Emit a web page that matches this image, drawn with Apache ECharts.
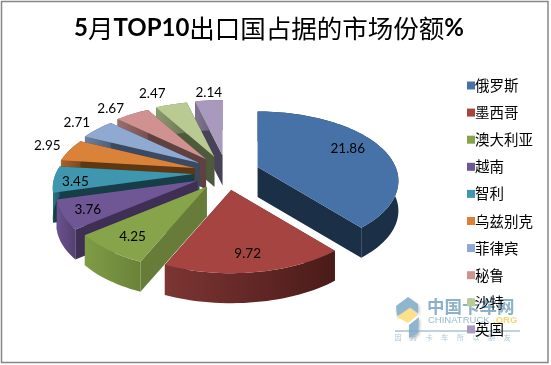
<!DOCTYPE html>
<html><head><meta charset="utf-8">
<style>html,body{margin:0;padding:0;background:#fff}#c{width:551px;height:365px}</style>
<script src="https://cdn.jsdelivr.net/npm/echarts@6/dist/echarts.min.js"></script>
</head><body><div id="c"></div>
<script>
const categories=['俄罗斯','墨西哥','澳大利亚','越南','智利','乌兹别克','菲律宾','秘鲁','沙特','英国'];
const shares=[21.86,9.72,4.25,3.76,3.45,2.95,2.71,2.67,2.47,2.14];
const topColors=['#4672a8','#a54441','#87a44a','#6f5694','#3e97ae','#db823a','#8fa9d0','#d09291','#b9ca93','#a99abd'];
const sideColors=['#1b2f47','#4f1f1d','#667c38','#3f2f54','#163d48','#5f3812','#3a4a62','#5e4140','#4e5a3c','#474257'];
const rimLeft=['#1b2f47','#7c3533','#809c46','#6a5290','#2f7488','#a8622a','#6b80a0','#9c6e6d','#8c9a6e','#80748f'];
const rimRight=['#1b2f47','#4a1b19','#6a8239','#54406f','#225a69','#7a4820','#4f5f78','#765150','#6a7553','#5f566b'];
const labelNudge=[[1,-3],[0,8],[-7,7],[-15,5],[-18,4],[-2,-2],[-5,-1],[-11,1],[-13,-4],[2,0]];

const total=shares.reduce((a,b)=>a+b,0);
const deg=Math.PI/180;
const G={cx:226.5,cy:172.8,ex:33,ey:17.3,A:138,B:66.6,k:0.2,D:30};
let acc=0;
const spans=shares.map(v=>{const s=acc;acc+=v/total*360;return [s,acc];});

function pt(ax,ay,r,t){
  const u=r*Math.sin(t*deg),v=-r*Math.cos(t*deg),p=1/(1-G.k*v);
  return [ax+G.A*u*p,ay+G.B*v*p];
}
function down(q){return [q[0],q[1]+G.D];}
function renderSlice(i,params,api){
  const [a,b]=spans[i],m=(a+b)/2;
  const ax=G.cx+G.ex*Math.sin(m*deg),ay=G.cy-G.ey*Math.cos(m*deg);
  const arc=[];
  const n=Math.max(6,Math.ceil((b-a)/2));
  for(let j=0;j<=n;j++)arc.push(pt(ax,ay,1,a+(b-a)*j/n));
  const apex=[ax,ay];
  const poly=(pts,fill)=>({type:'polygon',shape:{points:pts},style:{fill:fill},silent:true});
  const first=arc[0],last=arc[arc.length-1];
  const grad=new echarts.graphic.LinearGradient(0,0,1,0,[{offset:0,color:rimLeft[i]},{offset:1,color:rimRight[i]}]);
  const inside=shares[i]>=3.4;
  const lp=pt(ax,ay,inside?0.72:1.17,m);
  return {type:'group',children:[
    poly([apex,first,down(first),down(apex)],sideColors[i]),
    poly([apex,last,down(last),down(apex)],sideColors[i]),
    poly(arc.concat(arc.slice().reverse().map(down)),grad),
    poly([apex].concat(arc),topColors[i]),
    {type:'text',silent:true,style:{x:lp[0]+labelNudge[i][0],y:lp[1]+labelNudge[i][1],text:String(api.value(0)),fill:'#000',
      font:'13.5px Lato',align:'center',verticalAlign:'middle'}}
  ]};
}
const series=categories.map((name,i)=>{
  const m=(spans[i][0]+spans[i][1])/2;
  return {type:'custom',name:name,coordinateSystem:'none',z:Math.round(100-50*Math.cos(m*deg)),
    data:[[shares[i]]],itemStyle:{color:topColors[i]},animation:false,silent:true,
    renderItem:(p,api)=>renderSlice(i,p,api)};
});
const T={fontSize:25.5,fontFamily:'"Noto Sans CJK SC"',fontWeight:400,color:'#000'};
const L={fontSize:24,fontFamily:'Lato',fontWeight:700,color:'#000'};
const wm='#8db2c8';
const shadow={shadowColor:'rgba(90,90,90,.45)',shadowBlur:3,shadowOffsetX:1,shadowOffsetY:2};
const tagline=['因','为','卡','车','所','以','朋','友'].map((c,i)=>({type:'text',
  style:Object.assign({x:398+i*15.6,y:337,text:c,fill:wm,opacity:.75,font:'7px "Noto Sans CJK SC"',align:'center',verticalAlign:'middle'},shadow)}));
const chart=echarts.init(document.getElementById('c'),null,{renderer:'canvas'});
chart.setOption({
  animation:false,
  title:{left:74,top:16,padding:0,text:'{l|5}{c|月}{l|TOP10}{c|出口国占据的市场份额}{l|%}',
    textStyle:{rich:{l:L,c:T}}},
  legend:{orient:'vertical',left:462,top:71,itemWidth:8,itemHeight:8,itemGap:8.1,
    icon:'rect',selectedMode:false,data:categories,
    textStyle:{fontSize:14.5,fontFamily:'"Noto Sans CJK SC"',color:'#000',padding:[0,0,0,-5],lineHeight:19,height:19}},
  graphic:[
    {type:'rect',z:-2,shape:{x:1.5,y:1.5,width:546.5,height:361},style:{fill:'#fff',stroke:'#868686',lineWidth:1.5}},
    {type:'group',z:-1,silent:true,children:[
      {type:'polygon',shape:{points:[[396,306],[408,297],[418,304],[418,313],[410,307],[397,316]]},style:Object.assign({fill:'#8fb6cf'},shadow)},
      {type:'polygon',shape:{points:[[397,317],[410,308],[418,315],[408,323]]},style:{fill:'#fbe28a'}},
      {type:'polygon',shape:{points:[[409,325],[419,317],[418,333],[409,338]]},style:Object.assign({fill:'#8fb6cf'},shadow)},
      {type:'text',style:Object.assign({x:427,y:306,text:'中国卡车网',fill:wm,font:'bold 17.5px "Noto Sans CJK SC"',verticalAlign:'middle'},shadow)},
      {type:'text',style:{x:428,y:320,text:'CHINATRUCK',fill:wm,opacity:.9,font:'9.5px "Liberation Sans"',verticalAlign:'middle'}},
      {type:'text',style:{x:493,y:320,text:'.ORG',fill:'#f0d465',opacity:.9,font:'bold 9.5px "Liberation Sans"',verticalAlign:'middle'}},
      {type:'line',shape:{x1:395,y1:331,x2:520,y2:331},style:{stroke:'#7fa6bd',lineWidth:1}}
    ].concat(tagline)}
  ],
  series:series
});
</script></body></html>
